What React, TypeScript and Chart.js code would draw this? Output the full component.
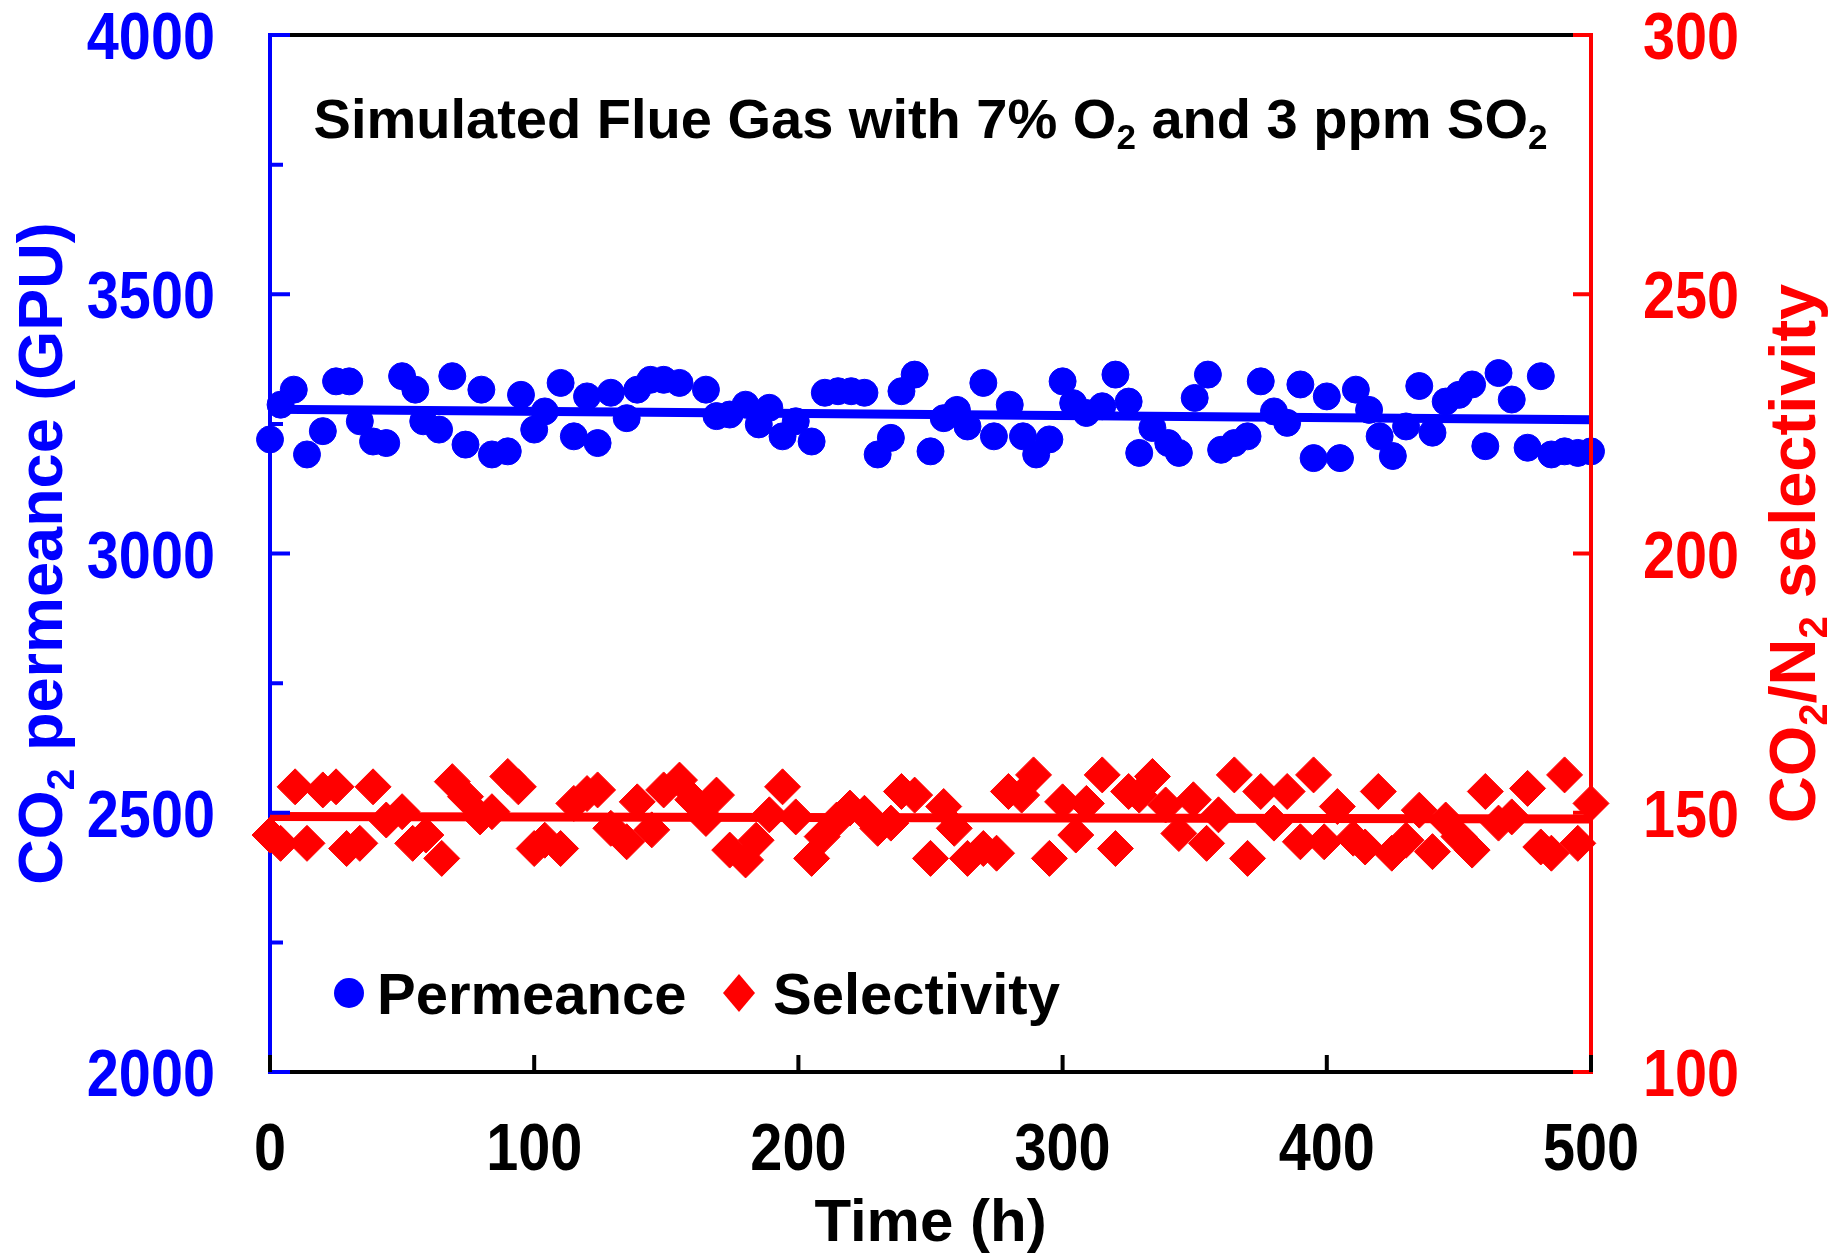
import React, { useEffect, useRef } from "react";
import { Chart, registerables } from "chart.js";

Chart.register(...registerables);

// ---------- data ----------
const permTime = [0, 4, 9, 14, 20, 25, 30, 34, 39, 44, 50, 55, 58, 64, 69, 74, 80, 84, 90, 95, 100, 104, 110, 115, 120, 124, 129, 135, 139, 144, 149, 155, 165, 169, 174, 180, 185, 189, 194, 199, 205, 210, 215, 220, 225, 230, 235, 239, 244, 250, 255, 260, 264, 270, 274, 280, 285, 290, 295, 300, 304, 309, 315, 320, 325, 329, 334, 340, 344, 350, 355, 360, 365, 370, 375, 380, 385, 390, 395, 400, 405, 411, 416, 420, 425, 430, 435, 440, 445, 450, 455, 460, 465, 470, 476, 481, 485, 490, 495, 500];
const permValues = [3220, 3287, 3316, 3191, 3236, 3332, 3332, 3255, 3216, 3213, 3342, 3316, 3255, 3239, 3342, 3210, 3316, 3191, 3197, 3306, 3239, 3274, 3329, 3226, 3303, 3213, 3310, 3261, 3316, 3335, 3335, 3329, 3316, 3265, 3268, 3287, 3249, 3281, 3226, 3255, 3216, 3310, 3313, 3313, 3310, 3191, 3223, 3313, 3345, 3197, 3261, 3277, 3245, 3329, 3226, 3287, 3226, 3191, 3220, 3332, 3290, 3271, 3284, 3345, 3293, 3194, 3242, 3213, 3194, 3300, 3345, 3200, 3213, 3226, 3332, 3274, 3252, 3326, 3184, 3303, 3184, 3316, 3277, 3226, 3188, 3245, 3323, 3233, 3293, 3306, 3326, 3207, 3348, 3297, 3204, 3342, 3191, 3197, 3194, 3197];

const selTime = [0, 4, 9.5, 14, 20, 25, 29, 34, 39, 44, 50, 54, 59, 65, 69, 74, 79.5, 84, 90, 94, 100, 104, 110, 115, 120, 124, 129, 135, 139, 144.5, 149, 155, 160, 165, 169, 174, 180, 184, 189, 194, 199, 205, 209, 214.5, 219.5, 225, 230, 235, 239, 244, 250, 255, 259, 264, 270, 275, 279.5, 284.5, 289, 295, 300, 305, 309, 315, 320, 325, 329, 334, 339, 344, 349.5, 354.5, 359, 365, 370, 375, 380, 385, 390, 395, 399, 404, 410, 414.5, 419.5, 424.6, 430, 435, 440, 445, 450, 455, 460, 465, 470, 476, 481, 485, 490, 495, 500];
const selValues = [145.7, 144.1, 155.0, 144.1, 154.4, 155.0, 143.1, 144.1, 155.0, 148.6, 150.2, 144.1, 145.7, 141.2, 156.0, 153.1, 149.2, 150.2, 157.0, 155.0, 143.1, 144.7, 143.1, 151.8, 153.7, 154.4, 147.0, 144.4, 152.1, 146.7, 154.4, 156.3, 152.5, 148.9, 153.4, 142.8, 140.9, 144.7, 149.6, 155.0, 149.2, 141.2, 145.4, 148.6, 150.9, 149.9, 147.0, 148.0, 154.1, 153.4, 141.2, 151.2, 147.0, 141.2, 143.1, 142.2, 154.1, 153.4, 157.3, 141.2, 152.1, 145.7, 151.8, 157.3, 143.1, 154.1, 153.4, 157.0, 151.5, 146.0, 152.5, 144.1, 149.6, 157.3, 141.2, 154.1, 148.0, 154.1, 144.4, 157.3, 144.4, 151.2, 145.1, 143.4, 154.1, 142.2, 144.7, 150.5, 142.5, 148.6, 145.4, 142.8, 154.1, 148.0, 149.2, 154.7, 143.4, 142.2, 157.3, 144.1, 151.8];

const fitTime = [0, 500];
const permFit = [3278, 3258];
const selFit = [149.3, 148.8];

const xTickValues = [0, 100, 200, 300, 400, 500];
const leftTickValues = [2000, 2500, 3000, 3500, 4000];
const rightTickValues = [100, 150, 200, 250, 300];

const titleText = ["Simulated Flue Gas with 7% O", "2", " and 3 ppm SO", "2"];
const leftTitle = ["CO", "2", " permeance (GPU)"];
const rightTitle = ["CO", "2", "/N", "2", " selectivity"];
const xTitle = "Time (h)";
const legendLabels = ["Permeance", "Selectivity"];

// ---------- styles ----------
const BLUE = "#0000ff";
const RED = "#ff0000";
const BLACK = "#000000";
const REG = "'Liberation Sans', Arial, Helvetica, sans-serif";

// draws segments alternating normal / subscript, centred at (cx, baseline)
function drawRich(ctx: CanvasRenderingContext2D, parts: string[], cx: number, by: number, size: number, color: string) {
  const subSize = Math.round(size * 0.62);
  const fonts = parts.map((_, i) => (i % 2 === 1 ? `bold ${subSize}px ${REG}` : `bold ${size}px ${REG}`));
  let total = 0;
  const widths = parts.map((p, i) => {
    ctx.font = fonts[i];
    const w = ctx.measureText(p).width;
    total += w;
    return w;
  });
  let x = cx - total / 2;
  ctx.fillStyle = color;
  ctx.textBaseline = "alphabetic";
  ctx.textAlign = "left";
  parts.forEach((p, i) => {
    ctx.font = fonts[i];
    ctx.fillText(p, x, i % 2 === 1 ? by + size * 0.19 : by);
    x += widths[i];
  });
}

// condensed tick label (narrow bold face is not installed, so compress horizontally)
function drawCondensed(ctx: CanvasRenderingContext2D, text: string, x: number, y: number, align: CanvasTextAlign, color: string) {
  ctx.save();
  ctx.translate(x, y);
  ctx.scale(0.86, 1);
  ctx.font = `bold 67px ${REG}`;
  ctx.textAlign = align;
  ctx.textBaseline = "alphabetic";
  ctx.fillStyle = color;
  ctx.fillText(text, 0, 0);
  ctx.restore();
}

const framePlugin = {
  id: "frame",
  beforeDatasetsDraw(chart: any) {
    const { ctx, chartArea: ca } = chart;
    ctx.save();
    ctx.lineWidth = 4;
    ctx.lineCap = "square";
    ctx.strokeStyle = BLACK;
    ctx.beginPath();
    ctx.moveTo(ca.left, ca.top);
    ctx.lineTo(ca.right, ca.top);
    ctx.moveTo(ca.left, ca.bottom);
    ctx.lineTo(ca.right, ca.bottom);
    ctx.stroke();
    ctx.strokeStyle = BLUE;
    ctx.beginPath();
    ctx.moveTo(ca.left, ca.top);
    ctx.lineTo(ca.left, ca.bottom);
    ctx.stroke();
    ctx.restore();
  },
  afterDatasetsDraw(chart: any) {
    const { ctx, chartArea: ca, scales } = chart;
    ctx.save();
    ctx.lineWidth = 4;
    ctx.lineCap = "butt";
    // right axis
    ctx.strokeStyle = RED;
    ctx.beginPath();
    ctx.moveTo(ca.right, ca.top - 2);
    ctx.lineTo(ca.right, ca.bottom + 2);
    ctx.stroke();
    // left ticks (major + minor)
    const y = scales.y;
    ctx.strokeStyle = BLUE;
    ctx.beginPath();
    y.ticks.forEach((t: any, i: number) => {
      const py = y.getPixelForValue(t.value);
      ctx.moveTo(ca.left, py);
      ctx.lineTo(ca.left + 20, py);
      if (i < y.ticks.length - 1) {
        const pm = y.getPixelForValue(t.value + 250);
        ctx.moveTo(ca.left, pm);
        ctx.lineTo(ca.left + 13, pm);
      }
    });
    ctx.stroke();
    // right ticks
    const y2 = scales.y2;
    ctx.strokeStyle = RED;
    ctx.beginPath();
    y2.ticks.forEach((t: any) => {
      const py = y2.getPixelForValue(t.value);
      ctx.moveTo(ca.right, py);
      ctx.lineTo(ca.right - 18, py);
    });
    ctx.stroke();
    // x ticks
    const x = scales.x;
    ctx.strokeStyle = BLACK;
    ctx.beginPath();
    x.ticks.forEach((t: any) => {
      const px = x.getPixelForValue(t.value);
      ctx.moveTo(px, ca.bottom);
      ctx.lineTo(px, ca.bottom - 17);
    });
    ctx.stroke();
    ctx.restore();
  },
  afterDraw(chart: any) {
    const { ctx, chartArea: ca, data, scales } = chart;
    const cx = (ca.left + ca.right) / 2;
    const cy = (ca.top + ca.bottom) / 2;
    ctx.save();
    // tick labels from the library's scales
    scales.y.ticks.forEach((t: any) => drawCondensed(ctx, String(t.label), ca.left - 55, scales.y.getPixelForValue(t.value) + 24, "right", BLUE));
    scales.y2.ticks.forEach((t: any) => drawCondensed(ctx, String(t.label), ca.right + 52, scales.y2.getPixelForValue(t.value) + 24, "left", RED));
    scales.x.ticks.forEach((t: any) => drawCondensed(ctx, String(t.label), scales.x.getPixelForValue(t.value), ca.bottom + 98, "center", BLACK));
    // chart title inside plot
    drawRich(ctx, titleText, cx, ca.top + 103, 56, BLACK);
    // left axis title
    ctx.save();
    ctx.translate(62, cy);
    ctx.rotate(-Math.PI / 2);
    drawRich(ctx, leftTitle, 0, 0, 63, BLUE);
    ctx.restore();
    // right axis title
    ctx.save();
    ctx.translate(1815, cy);
    ctx.rotate(-Math.PI / 2);
    drawRich(ctx, rightTitle, 0, 0, 65, RED);
    ctx.restore();
    // x title
    ctx.fillStyle = BLACK;
    ctx.font = `bold 60px ${REG}`;
    ctx.textAlign = "center";
    ctx.textBaseline = "alphabetic";
    ctx.fillText(xTitle, cx, 1241);
    // legend
    const ly = ca.top + 958;
    const d0 = data.datasets[0];
    const d1 = data.datasets[1];
    ctx.fillStyle = d0.backgroundColor;
    ctx.beginPath();
    ctx.arc(ca.left + 79, ly, 15, 0, Math.PI * 2);
    ctx.fill();
    ctx.fillStyle = d1.backgroundColor;
    const dx = ca.left + 469;
    ctx.beginPath();
    ctx.moveTo(dx - 16, ly);
    ctx.lineTo(dx, ly - 19);
    ctx.lineTo(dx + 16, ly);
    ctx.lineTo(dx, ly + 19);
    ctx.closePath();
    ctx.fill();
    ctx.fillStyle = BLACK;
    ctx.font = `bold 58px ${REG}`;
    ctx.textAlign = "left";
    ctx.fillText(legendLabels[0], ca.left + 107, ly + 21);
    ctx.fillText(legendLabels[1], ca.left + 503, ly + 21);
    ctx.restore();
  },
};

export default function App() {
  const ref = useRef<HTMLCanvasElement | null>(null);

  useEffect(() => {
    document.body.style.margin = "0";
    const canvas = ref.current;
    if (!canvas) return;
    const plain = (v: any) => String(v);
    const chart = new Chart(canvas, {
      type: "scatter",
      data: {
        datasets: [
          {
            label: legendLabels[0],
            data: permTime.map((t, i) => ({ x: t, y: permValues[i] })),
            yAxisID: "y",
            pointStyle: "circle",
            pointRadius: 13.5,
            borderWidth: 1,
            backgroundColor: BLUE,
            borderColor: BLUE,
            clip: false as any,
          },
          {
            label: legendLabels[1],
            data: selTime.map((t, i) => ({ x: t, y: selValues[i] })),
            yAxisID: "y2",
            pointStyle: "rectRot",
            pointRadius: 18,
            borderWidth: 1,
            backgroundColor: RED,
            borderColor: RED,
            clip: false as any,
          },
          {
            label: "permFit",
            data: fitTime.map((t, i) => ({ x: t, y: permFit[i] })),
            yAxisID: "y",
            showLine: true,
            pointRadius: 0,
            borderWidth: 9,
            borderColor: BLUE,
            backgroundColor: BLUE,
          },
          {
            label: "selFit",
            data: fitTime.map((t, i) => ({ x: t, y: selFit[i] })),
            yAxisID: "y2",
            showLine: true,
            pointRadius: 0,
            borderWidth: 9,
            borderColor: RED,
            backgroundColor: RED,
          },
        ],
      },
      options: {
        responsive: false,
        animation: false,
        layout: { padding: { top: 35, left: 0, right: 0, bottom: 0 } },
        plugins: { legend: { display: false }, tooltip: { enabled: false }, title: { display: false } },
        scales: {
          x: {
            type: "linear",
            min: 0,
            max: 500,
            afterBuildTicks: (s: any) => { s.ticks = xTickValues.map((v) => ({ value: v })); },
            ticks: { display: false, callback: plain },
            grid: { display: false, drawTicks: false },
            border: { display: false },
            afterFit: (s: any) => { s.height = 181; s.paddingLeft = 0; s.paddingRight = 0; },
          },
          y: {
            type: "linear",
            position: "left",
            min: 2000,
            max: 4000,
            afterBuildTicks: (s: any) => { s.ticks = leftTickValues.map((v) => ({ value: v })); },
            ticks: { display: false, callback: plain },
            grid: { display: false, drawTicks: false },
            border: { display: false },
            afterFit: (s: any) => { s.width = 270; s.paddingTop = 0; s.paddingBottom = 0; },
          },
          y2: {
            type: "linear",
            position: "right",
            min: 100,
            max: 300,
            afterBuildTicks: (s: any) => { s.ticks = rightTickValues.map((v) => ({ value: v })); },
            ticks: { display: false, callback: plain },
            grid: { display: false, drawTicks: false },
            border: { display: false },
            afterFit: (s: any) => { s.width = 246; s.paddingTop = 0; s.paddingBottom = 0; },
          },
        },
      },
      plugins: [framePlugin],
    });
    return () => chart.destroy();
  }, []);

  return (
    <div style={{ width: 1837, height: 1253, background: "#fff" }}>
      <canvas ref={ref} width={1837} height={1253} style={{ display: "block" }} />
    </div>
  );
}
